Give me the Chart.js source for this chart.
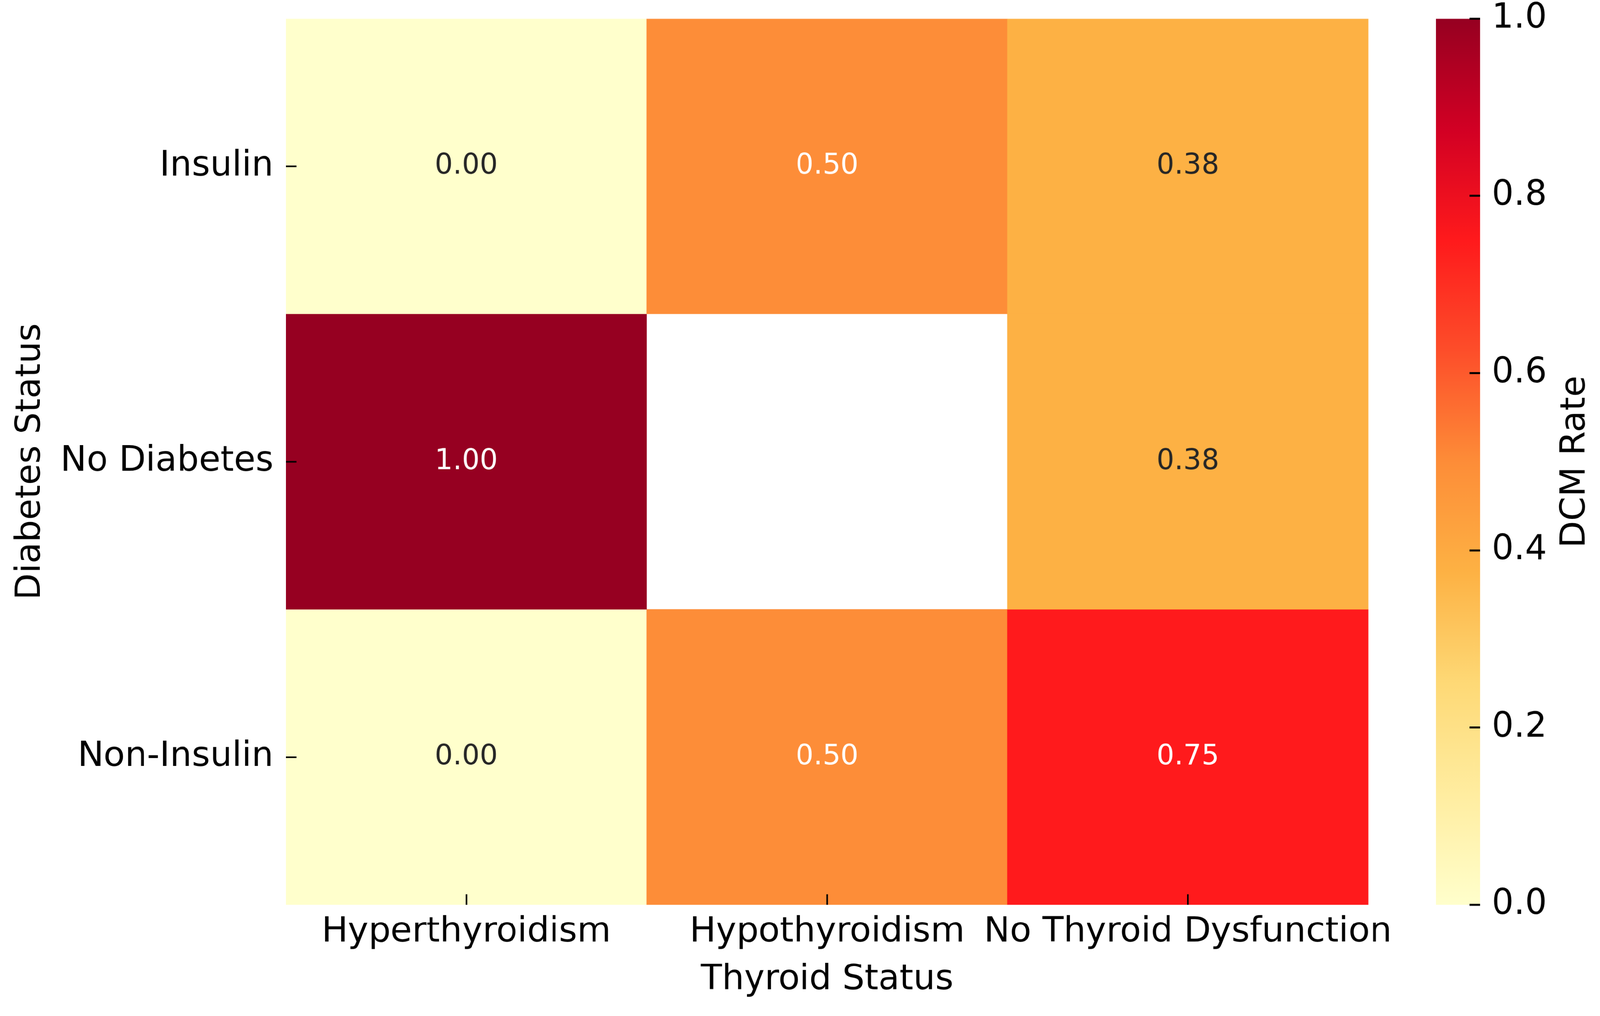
<!DOCTYPE html>
<html>
<head>
<meta charset="utf-8">
<script src="https://cdn.jsdelivr.net/npm/chart.js"></script>
<style>
  html, body { margin: 0; padding: 0; background: #ffffff; overflow: hidden; }
  #wrap { position: absolute; left: 0; top: 0; width: 4135px; height: 2600px; transform-origin: 0 0; }
  canvas { position: absolute; top: 0; }
  #heat { left: 0; }
  #cbar { left: 3600px; }
</style>
</head>
<body>
<div id="wrap">
  <canvas id="heat" width="3600" height="2600"></canvas>
  <canvas id="cbar" width="535" height="2600"></canvas>
</div>
<script>
// categories
const thyroidStatus = ["Hyperthyroidism", "Hypothyroidism", "No Thyroid Dysfunction"];
const diabetesStatus = ["Insulin", "No Diabetes", "Non-Insulin"];

// DCM rate per row (one value per thyroid status, null = no data)
const insulinRates = [0.00, 0.50, 0.38];
const noDiabetesRates = [1.00, null, 0.38];
const nonInsulinRates = [0.00, 0.50, 0.75];
const rateRows = [insulinRates, noDiabetesRates, nonInsulinRates];

// colour bar
const colorbarTicks = [0.0, 0.2, 0.4, 0.6, 0.8, 1.0];

// YlOrRd-like colour map, tuned to the picture
const cmapStops = [
  [0.0, "#ffffcc"],
  [0.125, "#ffeda0"],
  [0.25, "#fed976"],
  [0.375, "#fdb244"],
  [0.5, "#fd8d38"],
  [0.625, "#fd4e2a"],
  [0.75, "#ff1a1c"],
  [0.875, "#d20024"],
  [1.0, "#960021"]
];

const FONT = "'DejaVu Sans', 'Liberation Sans', sans-serif";

// the layout is made for 4135x2600, fit it to the real window width
const s = window.innerWidth / 4135;
document.getElementById("wrap").style.transform = "scale(" + s + ")";
const dpr = (window.devicePixelRatio || 1) * s;

function hexToRgb(h) {
  return [parseInt(h.slice(1, 3), 16), parseInt(h.slice(3, 5), 16), parseInt(h.slice(5, 7), 16)];
}

function rateColor(v) {
  for (let i = 1; i < cmapStops.length; i++) {
    const [p1, c1] = cmapStops[i];
    if (v <= p1) {
      const [p0, c0] = cmapStops[i - 1];
      const t = (v - p0) / (p1 - p0);
      const a = hexToRgb(c0), b = hexToRgb(c1);
      const rgb = a.map((x, k) => Math.round(x + (b[k] - x) * t));
      return "rgb(" + rgb.join(",") + ")";
    }
  }
  return cmapStops[cmapStops.length - 1][1];
}

// ticks drawn inside the plot area, like the original
function innerTicks(side, length, width) {
  return {
    id: "innerTicks",
    afterDraw(chart) {
      const { ctx, chartArea, scales } = chart;
      ctx.save();
      ctx.strokeStyle = "#000000";
      ctx.lineWidth = width;
      ctx.beginPath();
      if (side === "main") {
        scales.x.ticks.forEach((t, i) => {
          const px = scales.x.getPixelForTick(i);
          ctx.moveTo(px, chartArea.bottom);
          ctx.lineTo(px, chartArea.bottom - length);
        });
        scales.y.ticks.forEach((t, i) => {
          const py = scales.y.getPixelForTick(i);
          ctx.moveTo(chartArea.left, py);
          ctx.lineTo(chartArea.left + length, py);
        });
      } else {
        scales.y.ticks.forEach((t, i) => {
          const py = scales.y.getPixelForTick(i);
          ctx.moveTo(chartArea.right - length, py);
          ctx.lineTo(chartArea.right, py);
        });
      }
      ctx.stroke();
      ctx.restore();
    }
  };
}

const cellLabels = {
  id: "cellLabels",
  afterDatasetsDraw(chart) {
    const ctx = chart.ctx;
    ctx.save();
    ctx.font = "73px " + FONT;
    ctx.textAlign = "center";
    ctx.textBaseline = "middle";
    chart.data.datasets.forEach((ds, i) => {
      chart.getDatasetMeta(i).data.forEach((bar, j) => {
        const v = ds.rates[j];
        if (v === null) return;
        ctx.fillStyle = v >= 0.5 ? "#ffffff" : "#262626";
        ctx.fillText(v.toFixed(2), bar.x, (bar.y + bar.base) / 2);
      });
    });
    ctx.restore();
  }
};

new Chart(document.getElementById("heat"), {
  type: "bar",
  data: {
    labels: thyroidStatus,
    datasets: rateRows.map((row, r) => ({
      label: diabetesStatus[r],
      data: row.map(v => (v === null ? null : [r, r + 1])),
      rates: row,
      backgroundColor: row.map(v => (v === null ? "rgba(0,0,0,0)" : rateColor(v))),
      borderWidth: 0,
      barPercentage: 1,
      categoryPercentage: 1,
      grouped: false
    }))
  },
  options: {
    responsive: false,
    animation: false,
    devicePixelRatio: dpr,
    layout: { padding: { top: 48, right: 64, bottom: 0, left: 0 } },
    plugins: { legend: { display: false }, tooltip: { enabled: false } },
    scales: {
      x: {
        type: "category",
        offset: true,
        grid: { display: false, drawTicks: false },
        border: { display: false },
        ticks: {
          color: "#000000",
          font: { family: FONT, size: 90 },
          padding: 18,
          maxRotation: 0,
          minRotation: 0,
          autoSkip: false
        },
        title: {
          display: true,
          text: "Thyroid Status",
          color: "#000000",
          font: { family: FONT, size: 90 },
          padding: { top: 0, bottom: 14 }
        },
        afterFit(sc) {
          sc.height = 263;
          sc.paddingLeft = 0;
          sc.paddingRight = 0;
        }
      },
      y: {
        type: "linear",
        min: 0,
        max: 3,
        reverse: true,
        grid: { display: false, drawTicks: false },
        border: { display: false },
        afterBuildTicks(sc) {
          sc.ticks = diabetesStatus.map((_, i) => ({ value: i + 0.5 }));
        },
        ticks: {
          color: "#000000",
          font: { family: FONT, size: 90 },
          padding: 32,
          callback: v => diabetesStatus[Math.floor(v)]
        },
        title: {
          display: true,
          text: "Diabetes Status",
          color: "#000000",
          font: { family: FONT, size: 90 },
          padding: { top: 26, bottom: 0 }
        },
        afterFit(sc) {
          sc.width = 739;
          sc.paddingTop = 0;
          sc.paddingBottom = 0;
        }
      }
    }
  },
  plugins: [cellLabels, innerTicks("main", 27, 4)]
});

// colour bar label, read bottom to top
const colorbarLabel = {
  id: "colorbarLabel",
  afterDraw(chart) {
    const ctx = chart.ctx;
    const ca = chart.chartArea;
    ctx.save();
    ctx.translate(496, (ca.top + ca.bottom) / 2);
    ctx.rotate(-Math.PI / 2);
    ctx.font = "90px " + FONT;
    ctx.fillStyle = "#000000";
    ctx.textAlign = "center";
    ctx.textBaseline = "alphabetic";
    ctx.fillText("DCM Rate", 0, 0);
    ctx.restore();
  }
};

new Chart(document.getElementById("cbar"), {
  type: "bar",
  data: {
    labels: ["DCM Rate"],
    datasets: [{
      data: [[colorbarTicks[0], colorbarTicks[colorbarTicks.length - 1]]],
      backgroundColor(c) {
        const ca = c.chart.chartArea;
        if (!ca) return "#ffffff";
        const g = c.chart.ctx.createLinearGradient(0, ca.bottom, 0, ca.top);
        cmapStops.forEach(([p, col]) => g.addColorStop(p, col));
        return g;
      },
      borderWidth: 0,
      barPercentage: 1,
      categoryPercentage: 1
    }]
  },
  options: {
    responsive: false,
    animation: false,
    devicePixelRatio: dpr,
    layout: { padding: { top: 48, right: 0, bottom: 263, left: 111 } },
    plugins: { legend: { display: false }, tooltip: { enabled: false } },
    scales: {
      x: { display: false },
      y: {
        type: "linear",
        position: "right",
        min: 0,
        max: 1,
        grid: { display: false, drawTicks: false },
        border: { display: false },
        afterBuildTicks(sc) {
          sc.ticks = colorbarTicks.map(v => ({ value: v }));
        },
        ticks: {
          color: "#000000",
          font: { family: FONT, size: 90 },
          padding: 30,
          callback: v => v.toFixed(1)
        },
        afterFit(sc) {
          sc.width = 310;
          sc.paddingTop = 0;
          sc.paddingBottom = 0;
        }
      }
    }
  },
  plugins: [innerTicks("cbar", 27, 5), colorbarLabel]
});
</script>
</body>
</html>
